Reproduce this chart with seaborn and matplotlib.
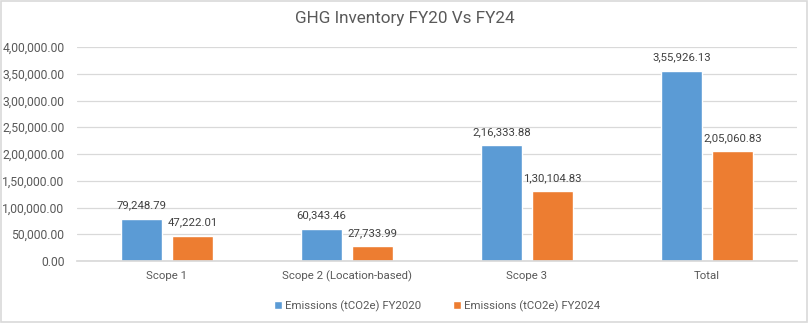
import matplotlib
matplotlib.use("Agg")
import matplotlib.pyplot as plt
import seaborn as sns
import pandas as pd
from matplotlib.ticker import FuncFormatter
from matplotlib.patches import Rectangle

categories = ["Scope 1", "Scope 2 (Location-based)", "Scope 3", "Total"]
fy2020 = [79248.79, 60343.46, 216333.88, 355926.13]
fy2024 = [47222.01, 27733.99, 130104.83, 205060.83]
series_names = ["Emissions (tCO2e) FY2020", "Emissions (tCO2e) FY2024"]
colors = ["#5B9BD5", "#ED7D31"]

df = pd.DataFrame({
    "category": categories * 2,
    "value": fy2020 + fy2024,
    "series": [series_names[0]] * 4 + [series_names[1]] * 4,
})

def indian(x, decimals=2):
    neg = x < 0
    x = abs(x)
    s = f"{x:.{decimals}f}"
    ip, dp = s.split(".")
    if len(ip) > 3:
        last3 = ip[-3:]
        rest = ip[:-3]
        groups = []
        while len(rest) > 2:
            groups.insert(0, rest[-2:])
            rest = rest[:-2]
        if rest:
            groups.insert(0, rest)
        ip = ",".join(groups + [last3])
    return ("-" if neg else "") + ip + "." + dp

sns.set_theme(style="white")
plt.rcParams["font.family"] = ["Roboto", "DejaVu Sans"]
text_color = "#595959"
fs = 8.2

fig = plt.figure(figsize=(8.09, 3.23), dpi=100)
ax = fig.add_axes([77 / 809, 1 - 261 / 323, 720 / 809, 214 / 323])

sns.barplot(data=df, x="category", y="value", hue="series", palette=colors,
            width=0.567, gap=0.215, ax=ax, saturation=1, legend=True)

ax.set_ylim(0, 400000)
ax.set_yticks(range(0, 400001, 50000))
ax.yaxis.set_major_formatter(FuncFormatter(lambda v, p: indian(v)))
ax.set_xlim(-0.5, 3.5)
ax.grid(axis="y", color="#D9D9D9", linewidth=0.9)
ax.set_axisbelow(True)
for s in ["top", "right", "left"]:
    ax.spines[s].set_visible(False)
ax.spines["bottom"].set_color("#D9D9D9")
ax.tick_params(axis="y", length=0, colors=text_color, labelsize=8.7, pad=9)
ax.tick_params(axis="x", length=0, colors=text_color, labelsize=fs, pad=7)
ax.set_xlabel("")
ax.set_ylabel("")

for cont in ax.containers:
    ax.bar_label(cont, labels=[indian(v) for v in cont.datavalues],
                 padding=6, color="#404040", fontsize=fs)

handles, labels = ax.get_legend_handles_labels()
ax.legend(handles, labels, loc="upper center", bbox_to_anchor=(0.5, -0.135),
          ncol=2, frameon=False, fontsize=fs, labelcolor=text_color,
          handlelength=0.7, handleheight=0.7, handletextpad=0.3, columnspacing=2.8)

fig.text(0.5, 1 - 18 / 323, "GHG Inventory FY20 Vs FY24", ha="center", va="center",
         fontsize=12.3, color=text_color)

fig.patches.append(Rectangle((0.001, 0.002), 0.997, 0.995, transform=fig.transFigure,
                             fill=False, edgecolor="#D9D9D9", linewidth=1.2))

fig.savefig("out.png", dpi=100)
